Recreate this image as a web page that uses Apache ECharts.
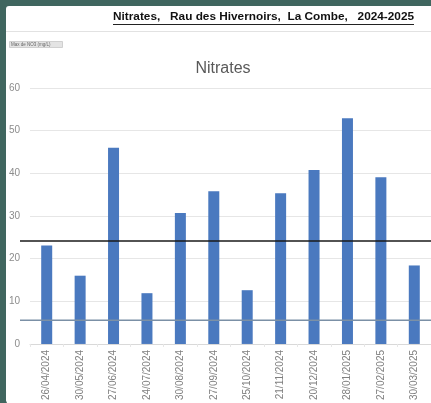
<!DOCTYPE html>
<html>
<head>
<meta charset="utf-8">
<script src="https://cdn.jsdelivr.net/npm/echarts@6/dist/echarts.min.js"></script>
<style>
html,body{margin:0;padding:0;background:#40665f;}
#c{width:431px;height:403px;}
</style>
</head>
<body>
<div id="c"></div>
<script>
const categories = ['26/04/2024','30/05/2024','27/06/2024','24/07/2024','30/08/2024','27/09/2024','25/10/2024','21/11/2024','20/12/2024','28/01/2025','27/02/2025','30/03/2025'];
const nitrates = [23.1, 16.0, 46.0, 11.9, 30.7, 35.8, 12.6, 35.3, 40.8, 52.9, 39.1, 18.4];
const yTicks = [0, 10, 20, 30, 40, 50, 60];
const upperLine = 24.4;
const lowerLine = 6.0;
const mainTitle = 'Nitrates,   Rau des Hivernoirs,  La Combe,   2024-2025';
const chartTitle = 'Nitrates';
const legendText = 'Max de NO3 (mg/L)';

const chart = echarts.init(document.getElementById('c'), null, {renderer: 'canvas'});
const yMin = yTicks[0], yMax = yTicks[yTicks.length - 1], yStep = yTicks[1] - yTicks[0];
const font = '"Liberation Sans", Arial, sans-serif';

chart.setOption({
  backgroundColor: '#40665f',
  animation: false,
  graphic: [
    {type: 'rect', z: -10, shape: {x: 6, y: 6, width: 425, height: 397, r: [3, 0, 0, 0]}, style: {fill: '#ffffff'}},
    {type: 'polygon', z: 100, shape: {points: [[0, 386], [7, 403], [0, 403]]}, style: {fill: '#40665f'}},
    {type: 'text', z: 10, right: 17, top: 11, style: {text: mainTitle, font: 'bold 11.8px ' + font, fill: '#111111'}},
    {type: 'line', z: 10, shape: {x1: 113, y1: 24.5, x2: 414, y2: 24.5}, style: {stroke: '#222222', lineWidth: 1}},
    {type: 'line', z: 10, shape: {x1: 6, y1: 31.5, x2: 431, y2: 31.5}, style: {stroke: '#e2e2e2', lineWidth: 1}},
    {type: 'rect', z: 10, shape: {x: 9.5, y: 41.5, width: 53, height: 6}, style: {fill: '#e4e4e4', stroke: '#d0d0d0', lineWidth: 1}},
    {type: 'text', z: 11, left: 11, top: 42.3, style: {text: legendText, font: '4.5px ' + font, fill: '#666666'}}
  ],
  title: {
    text: chartTitle,
    left: 218, top: 56, textAlign: 'center',
    textStyle: {fontFamily: font, fontSize: 16, fontWeight: 'normal', color: '#595959'}
  },
  grid: [
    {left: 30, right: -7, top: 88, bottom: 57, containLabel: false},
    {left: 20, right: 0, top: 88, bottom: 57, containLabel: false}
  ],
  xAxis: [
    {
      type: 'category', gridIndex: 0, data: categories,
      axisLine: {show: true, lineStyle: {color: '#d9d9d9', width: 1}},
      axisTick: {show: true, alignWithLabel: false, length: 3, lineStyle: {color: '#e6e6e6'}},
      axisLabel: {rotate: 90, margin: 6, fontSize: 10, color: '#7f7f7f', fontFamily: font, interval: 0},
      splitLine: {show: false}
    },
    {type: 'value', gridIndex: 1, min: 0, max: 1, show: false}
  ],
  yAxis: [
    {
      type: 'value', gridIndex: 0, min: yMin, max: yMax, interval: yStep,
      axisLine: {show: false}, axisTick: {show: false},
      axisLabel: {margin: 10, fontSize: 10, color: '#8c8c8c', fontFamily: font},
      splitLine: {show: true, lineStyle: {color: '#e6e6e6', width: 1}}
    },
    {type: 'value', gridIndex: 1, min: yMin, max: yMax, show: false}
  ],
  series: [
    {
      type: 'bar', xAxisIndex: 0, yAxisIndex: 0, data: nitrates,
      barWidth: 11, itemStyle: {color: '#4a79bf'}, z: 2
    },
    {
      type: 'line', xAxisIndex: 1, yAxisIndex: 1, data: [[0, upperLine], [1, upperLine]],
      symbol: 'none', lineStyle: {color: '#1a1a1a', width: 1.5}, z: 5, silent: true
    },
    {
      type: 'line', xAxisIndex: 1, yAxisIndex: 1, data: [[0, lowerLine], [1, lowerLine]],
      symbol: 'none', lineStyle: {color: '#7b90a6', width: 1.5}, z: 5, silent: true
    }
  ]
});
</script>
</body>
</html>
